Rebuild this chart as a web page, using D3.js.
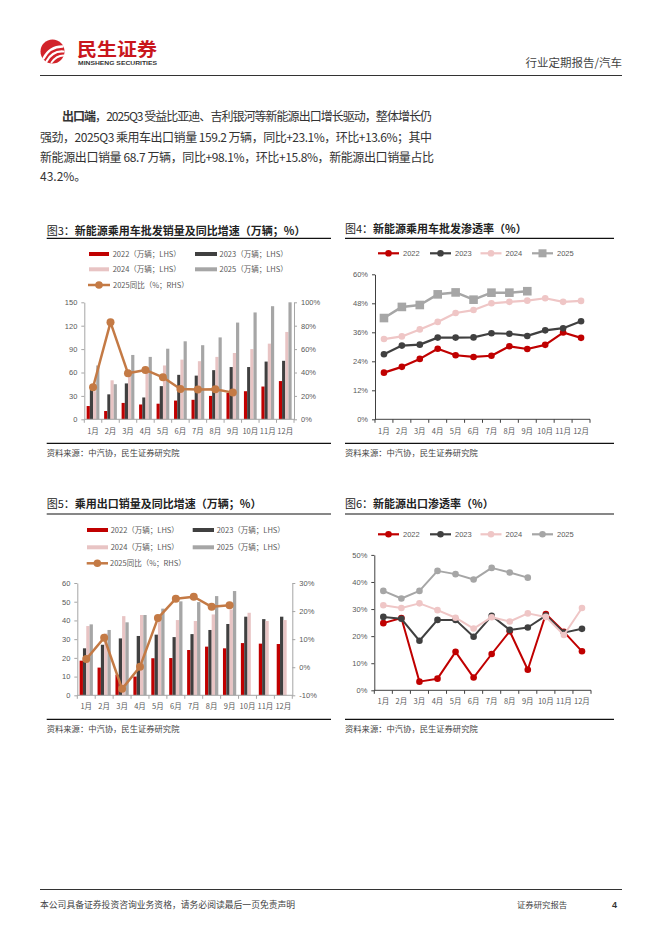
<!DOCTYPE html>
<html>
<head>
<meta charset="utf-8">
<title>汽车行业定期报告 p4</title>
<script src="https://d3js.org/d3.v7.min.js"></script>
<style>
  body { margin: 0; background: #fff; }
  svg { display: block; font-family: "Noto Sans CJK SC", sans-serif; }
  .num { font-family: "Liberation Sans", "Noto Sans CJK SC", sans-serif; }
</style>
</head>
<body>
<script>
// ---- data ----
const months = ["1月", "2月", "3月", "4月", "5月", "6月", "7月", "8月", "9月", "10月", "11月", "12月"];

// 图3 新能源乘用车批发销量（万辆）及 2025 同比（%）
const nevWs2022 = [17, 10.6, 21, 19, 20, 24, 25, 30, 34, 36, 42, 49];
const nevWs2023 = [38, 32, 46, 28, 42.5, 57, 56, 63, 67, 67, 74, 75];
const nevWs2024 = [36, 50, 61, 61, 69, 76.5, 74.5, 80, 85, 90, 97, 112];
const nevWs2025 = [69, 45, 82.5, 80, 90.5, 100, 95, 105, 124, 137, 145, 150];
const nevWsYoy = [27.4, 82.9, 39.3, 42.2, 35.9, 25.9, 25.4, 25.6, 22.8];

// 图4 新能源乘用车批发渗透率（%）
const penet2022 = [19.3, 21.7, 25.0, 29.2, 26.5, 25.8, 26.3, 30.2, 29.1, 30.8, 35.9, 33.7];
const penet2023 = [26.9, 30.5, 30.9, 33.8, 33.8, 33.9, 35.6, 35.4, 34.5, 36.8, 37.7, 40.6];
const penet2024 = [33.2, 34.3, 37.2, 40.3, 44.0, 45.2, 48.0, 48.6, 49.1, 50.1, 48.6, 49.0];
const penet2025 = [41.9, 46.5, 47.3, 51.7, 52.5, 49.5, 52.4, 52.4, 53.0];

// 图5 乘用出口销量（万辆）及 2025 同比（%）
const exp2022 = [18.5, 14.8, 11, 10, 19.8, 19.9, 24.2, 26, 25.1, 27.9, 27.6, 27.4];
const exp2023 = [25.1, 27, 30.4, 31.7, 32.4, 31.1, 32.7, 34.9, 38.1, 42, 40.7, 42];
const exp2024 = [37, 33, 42.3, 42.9, 40, 40.2, 39.7, 43.2, 45.9, 44.1, 39.7, 40.2];
const exp2025 = [37.9, 34.9, 39, 42.9, 46.3, 50.2, 49.8, 53, 55.7];
const expYoy = [2.9, 10.5, -7.7, 0.2, 17.5, 24.4, 25.1, 21.5, 22.1];

// 图6 新能源出口渗透率（%）
const nevExp2022 = [24.8, 26.7, 3.2, 4.3, 14.2, 4.7, 13.4, 21.8, 7.6, 28.2, 21.6, 14.4];
const nevExp2023 = [27.1, 26.4, 18.3, 26.0, 26.0, 19.8, 27.5, 22.3, 23.2, 27.6, 21.3, 22.7];
const nevExp2024 = [31.4, 30.4, 32.1, 29.6, 26.8, 22.8, 27.0, 25.4, 28.4, 27.1, 20.4, 30.4];
const nevExp2025 = [36.7, 33.9, 36.7, 44.1, 42.9, 40.9, 45.2, 43.5, 41.6];

const RED = "#c00000", DARK = "#404040", PINK = "#e8c4c4", GRAY = "#a6a6a6", ORANGE = "#c47a45";
const LINE_PINK = "#efc6c6";

const svg = d3.select("body").append("svg").attr("width", 662).attr("height", 936);

// ---- header ----
const logo = svg.append("g").attr("transform", "translate(52.5,51.5)");
logo.append("circle").attr("r", 12).attr("fill", "#d2232a");
[["M-9,7 Q-3,-5 10,-5", 2.4], ["M-6,10 Q0,-1 11,0", 2.2], ["M-1,11 Q4,4 11,4", 1.8]].forEach(p => {
  logo.append("path").attr("d", p[0]).attr("fill", "none").attr("stroke", "#fff")
    .attr("stroke-width", p[1]).attr("stroke-linecap", "round");
});
svg.append("text").attr("x", 77).attr("y", 55.5).attr("font-size", 18).attr("font-weight", 700)
  .attr("fill", "#c9161d").attr("textLength", 80).attr("lengthAdjust", "spacingAndGlyphs").text("民生证券");
svg.append("text").attr("class", "num").attr("x", 78).attr("y", 64.5).attr("font-size", 6).attr("font-weight", 700)
  .attr("fill", "#333").attr("textLength", 79).attr("lengthAdjust", "spacingAndGlyphs").text("MINSHENG SECURITIES");
svg.append("text").attr("x", 622).attr("y", 67).attr("text-anchor", "end").attr("font-size", 11.5)
  .attr("fill", "#444").text("行业定期报告/汽车");
svg.append("line").attr("x1", 40).attr("x2", 622).attr("y1", 75.5).attr("y2", 75.5)
  .attr("stroke", "#333").attr("stroke-width", 1);

// ---- paragraph ----
const para = svg.append("g").attr("font-size", 12).attr("fill", "#333").style("white-space", "pre");
const l1 = para.append("text").attr("x", 62).attr("y", 121).attr("textLength", 370).attr("lengthAdjust", "spacing");
l1.append("tspan").attr("font-weight", 700).text("出口端");
l1.append("tspan").text("，2025Q3 受益比亚迪、吉利银河等新能源出口增长驱动，整体增长仍");
para.append("text").attr("x", 40).attr("y", 141.5).attr("textLength", 392).attr("lengthAdjust", "spacing")
  .text("强劲，2025Q3 乘用车出口销量 159.2 万辆，同比+23.1%，环比+13.6%；其中");
para.append("text").attr("x", 40).attr("y", 161.8).attr("textLength", 394).attr("lengthAdjust", "spacing")
  .text("新能源出口销量  68.7  万辆，同比+98.1%，环比+15.8%，新能源出口销量占比");
para.append("text").attr("x", 40).attr("y", 181).text("43.2%。");

// ---- helpers ----
function title(x, y, x2, lineY, num, txt) {
  const t = svg.append("text").attr("x", x).attr("y", y).attr("font-size", 11).attr("fill", "#222");
  t.append("tspan").attr("font-weight", 400).text("图" + num + "：");
  t.append("tspan").attr("font-weight", 700).text(txt);
  svg.append("line").attr("x1", x).attr("x2", x2).attr("y1", lineY).attr("y2", lineY)
    .attr("stroke", "#111").attr("stroke-width", 1.2);
}
function source(x, x2, lineY) {
  svg.append("line").attr("x1", x).attr("x2", x2).attr("y1", lineY).attr("y2", lineY)
    .attr("stroke", "#111").attr("stroke-width", 1.2);
  svg.append("text").attr("x", x).attr("y", lineY + 12.3).attr("font-size", 8.3).attr("fill", "#444")
    .text("资料来源：中汽协，民生证券研究院");
}
function yAxis(g, scale, side, xPos, vals, fmt, color) {
  const ax = (side === "left" ? d3.axisLeft(scale) : d3.axisRight(scale))
    .tickValues(vals).tickFormat(fmt).tickSize(3).tickSizeOuter(0).tickPadding(4);
  const a = g.append("g").attr("transform", `translate(${xPos},0)`).call(ax);
  a.select(".domain").attr("stroke", color);
  a.selectAll(".tick line").attr("stroke", color);
  a.selectAll(".tick text").attr("class", "num").attr("font-size", 7.5).attr("fill", "#595959");
  a.attr("font-family", null);
}
function xAxis(g, x, y0, color, labelDy) {
  const [r0, r1] = x.range();
  g.append("line").attr("x1", r0).attr("x2", r1).attr("y1", y0).attr("y2", y0).attr("stroke", color);
  const step = (r1 - r0) / months.length;
  g.append("g").selectAll("line").data(d3.range(months.length + 1)).join("line")
    .attr("x1", i => r0 + i * step).attr("x2", i => r0 + i * step)
    .attr("y1", y0).attr("y2", y0 + 3.5).attr("stroke", color);
  g.append("g").selectAll("text").data(months).join("text")
    .attr("x", m => x(m) + x.bandwidth() / 2).attr("y", y0 + labelDy)
    .attr("text-anchor", "middle").attr("font-size", 7.5).attr("fill", "#595959").text(m => m);
}
function bars(g, x, y, list, colors) {
  const x1 = d3.scaleBand().domain(d3.range(list.length)).range([0, x.bandwidth()]);
  list.forEach((vals, i) => {
    g.append("g").selectAll("rect").data(vals).join("rect")
      .attr("x", (d, j) => x(months[j]) + x1(i))
      .attr("width", x1.bandwidth())
      .attr("y", d => y(d))
      .attr("height", d => y(0) - y(d))
      .attr("fill", colors[i]);
  });
}
function marker(g, shape, cx, cy, size, color) {
  if (shape === "square") {
    g.append("rect").attr("x", cx - size).attr("y", cy - size).attr("width", size * 2).attr("height", size * 2)
      .attr("fill", color);
  } else {
    g.append("circle").attr("cx", cx).attr("cy", cy).attr("r", size).attr("fill", color);
  }
}
function series(g, x, y, vals, color, width, shape, size) {
  const cx = (d, i) => x(months[i]) + x.bandwidth() / 2;
  g.append("path").datum(vals)
    .attr("d", d3.line().x(cx).y(d => y(d)))
    .attr("fill", "none").attr("stroke", color).attr("stroke-width", width).attr("stroke-linejoin", "round");
  vals.forEach((d, i) => marker(g, shape, cx(d, i), y(d), size, color));
}
function barLegend(items) {
  items.forEach(it => {
    if (it.line) {
      svg.append("line").attr("x1", it.x).attr("x2", it.x2).attr("y1", it.y).attr("y2", it.y)
        .attr("stroke", it.color).attr("stroke-width", 2.5);
      svg.append("circle").attr("cx", (it.x + it.x2) / 2).attr("cy", it.y).attr("r", 3.8).attr("fill", it.color);
    } else {
      svg.append("rect").attr("x", it.x).attr("y", it.y - 2).attr("width", it.x2 - it.x).attr("height", 4)
        .attr("fill", it.color);
    }
    svg.append("text").attr("x", it.tx).attr("y", it.y + 2.7).attr("font-size", 7.5).attr("fill", "#595959").text(it.label);
  });
}
function lineLegend(y, colors, shapes, size) {
  const xs = [378, 430, 480.5, 532];
  ["2022", "2023", "2024", "2025"].forEach((lab, i) => {
    svg.append("line").attr("x1", xs[i]).attr("x2", xs[i] + 21).attr("y1", y).attr("y2", y)
      .attr("stroke", colors[i]).attr("stroke-width", 2.2);
    marker(svg, shapes[i], xs[i] + 10.5, y, shapes[i] === "square" ? size + 0.7 : size, colors[i]);
    svg.append("text").attr("class", "num").attr("x", xs[i] + 25).attr("y", y + 2.7)
      .attr("font-size", 7.5).attr("fill", "#595959").text(lab);
  });
}

// ---- 图3 ----
title(46.7, 235, 331, 238.3, 3, "新能源乘用车批发销量及同比增速（万辆；%）");
barLegend([
  { x: 89, x2: 109, y: 254, tx: 112.7, color: RED, label: "2022（万辆；LHS）" },
  { x: 195, x2: 217, y: 254, tx: 219.5, color: DARK, label: "2023（万辆；LHS）" },
  { x: 89, x2: 109, y: 269.3, tx: 112.7, color: PINK, label: "2024（万辆；LHS）" },
  { x: 195, x2: 217, y: 269.3, tx: 219.5, color: GRAY, label: "2025（万辆；LHS）" },
  { x: 88, x2: 110, y: 285, tx: 113, color: ORANGE, label: "2025同比（%；RHS）", line: true }
]);
{
  const g = svg.append("g");
  const x = d3.scaleBand().domain(months).range([84.3, 294]).paddingInner(0.27).paddingOuter(0.135);
  const y = d3.scaleLinear().domain([0, 150]).range([419.3, 302.3]);
  const yr = d3.scaleLinear().domain([0, 100]).range([419.3, 302.3]);
  bars(g, x, y, [nevWs2022, nevWs2023, nevWs2024, nevWs2025], [RED, DARK, PINK, GRAY]);
  yAxis(g, y, "left", 84.3, [0, 30, 60, 90, 120, 150], d3.format("d"), "#a6a6a6");
  yAxis(g, yr, "right", 294, [0, 20, 40, 60, 80, 100], d => d + "%", "#a6a6a6");
  xAxis(g, x, 419.3, "#a6a6a6", 15);
  series(g, x, yr, nevWsYoy, ORANGE, 2.5, "circle", 4);
}
source(46.7, 331, 443.3);

// ---- 图4 ----
title(345, 232.5, 614, 238.3, 4, "新能源乘用车批发渗透率（%）");
lineLegend(253.3, [RED, DARK, LINE_PINK, GRAY], ["circle", "circle", "circle", "square"], 3.3);
{
  const g = svg.append("g");
  const x = d3.scaleBand().domain(months).range([375, 590]);
  const y = d3.scaleLinear().domain([0, 60]).range([419.3, 274.3]);
  yAxis(g, y, "left", 375, [0, 12, 24, 36, 48, 60], d => d + "%", "#404040");
  xAxis(g, x, 419.3, "#404040", 15);
  series(g, x, y, penet2022, RED, 2.2, "circle", 3.3);
  series(g, x, y, penet2023, DARK, 2.2, "circle", 3.3);
  series(g, x, y, penet2024, LINE_PINK, 2.2, "circle", 3.3);
  series(g, x, y, penet2025, GRAY, 2.5, "square", 4.3);
}
source(345, 614, 443.3);

// ---- 图5 ----
title(46.7, 508, 331, 514, 5, "乘用出口销量及同比增速（万辆；%）");
barLegend([
  { x: 87, x2: 108, y: 530, tx: 110.7, color: RED, label: "2022（万辆；LHS）" },
  { x: 192.7, x2: 214, y: 530, tx: 216.7, color: DARK, label: "2023（万辆；LHS）" },
  { x: 87, x2: 108, y: 547.3, tx: 110.7, color: PINK, label: "2024（万辆；LHS）" },
  { x: 192.7, x2: 214, y: 547.3, tx: 216.7, color: GRAY, label: "2025（万辆；LHS）" },
  { x: 86.7, x2: 108, y: 563.3, tx: 110, color: ORANGE, label: "2025同比（%；RHS）", line: true }
]);
{
  const g = svg.append("g");
  const x = d3.scaleBand().domain(months).range([77.3, 292.3]).paddingInner(0.26).paddingOuter(0.13);
  const y = d3.scaleLinear().domain([0, 60]).range([695.3, 583]);
  const yr = d3.scaleLinear().domain([-10, 30]).range([695.3, 583]);
  bars(g, x, y, [exp2022, exp2023, exp2024, exp2025], [RED, DARK, PINK, GRAY]);
  yAxis(g, y, "left", 77.3, [0, 10, 20, 30, 40, 50, 60], d3.format("d"), "#a6a6a6");
  yAxis(g, yr, "right", 292.3, [-10, 0, 10, 20, 30], d => d + "%", "#a6a6a6");
  xAxis(g, x, 695.3, "#a6a6a6", 14);
  series(g, x, yr, expYoy, ORANGE, 2.5, "circle", 4);
}
source(46.7, 331, 719.3);

// ---- 图6 ----
title(345, 508, 614, 514, 6, "新能源出口渗透率（%）");
lineLegend(534.3, [RED, DARK, LINE_PINK, GRAY], ["circle", "circle", "circle", "circle"], 3.3);
{
  const g = svg.append("g");
  const x = d3.scaleBand().domain(months).range([374.3, 591]);
  const y = d3.scaleLinear().domain([0, 50]).range([690.3, 554.9]);
  yAxis(g, y, "left", 374.3, [0, 10, 20, 30, 40, 50], d => d + "%", "#404040");
  xAxis(g, x, 690.3, "#404040", 14);
  series(g, x, y, nevExp2022, RED, 2, "circle", 3.3);
  series(g, x, y, nevExp2023, DARK, 2, "circle", 3.3);
  series(g, x, y, nevExp2024, LINE_PINK, 2, "circle", 3.3);
  series(g, x, y, nevExp2025, GRAY, 2, "circle", 3.3);
}
source(345, 614, 719.3);

// ---- footer ----
svg.append("line").attr("x1", 40).attr("x2", 622).attr("y1", 889.5).attr("y2", 889.5)
  .attr("stroke", "#333").attr("stroke-width", 1);
svg.append("text").attr("x", 40).attr("y", 908).attr("font-size", 8.8).attr("fill", "#444")
  .text("本公司具备证券投资咨询业务资格，请务必阅读最后一页免责声明");
svg.append("text").attr("x", 517).attr("y", 908).attr("font-size", 8.4).attr("fill", "#444").text("证券研究报告");
svg.append("text").attr("class", "num").attr("x", 612).attr("y", 908).attr("font-size", 9).attr("font-weight", 700)
  .attr("fill", "#333").text("4");
</script>
</body>
</html>
